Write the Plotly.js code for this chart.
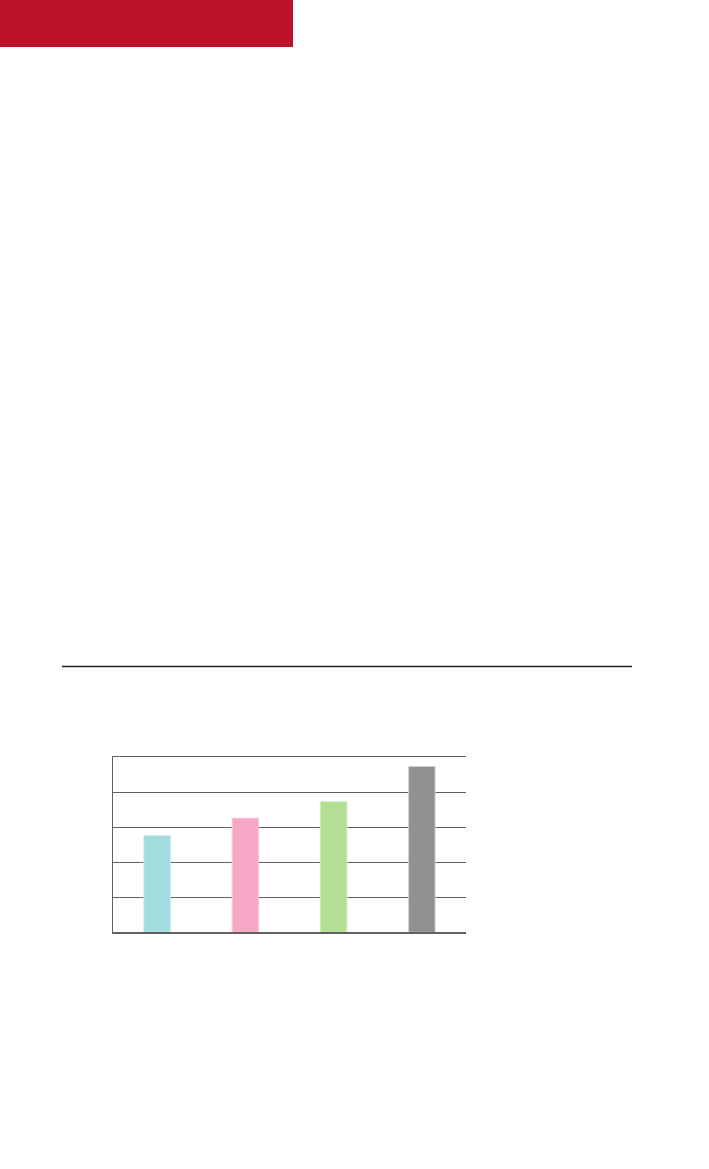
<!DOCTYPE html>
<html>
<head>
<meta charset="utf-8">
<script src="https://cdn.plot.ly/plotly-3.0.1.min.js"></script>
<style>
  html, body { margin: 0; padding: 0; background: #ffffff; }
  #chart { width: 709px; height: 1169px; }
</style>
</head>
<body>
<div id="chart"></div>
<script>
// Values (no labels printed, scale 0-5 gridlines)
const categories = ['A', 'B', 'C', 'D'];
const values = [2.76, 3.26, 3.73, 4.74];
const barColors = ['#a3dcde', '#f7a7c6', '#b3e094', '#918f90'];
const barEdges = ['#c6eaea', '#fbc6da', '#cdeeb8', '#d2d1d2'];

const W = 709, H = 1169;
const GRID = '#616161';

// plot box in pixels, converted to paper fractions
const box = { left: 113, right: 466, top: 757.3, bottom: 932.3 };

const trace = {
  x: categories,
  y: values,
  type: 'bar',
  width: 0.3,
  marker: {
    color: barColors,
    line: { color: barEdges, width: 1 },
  },
  hoverinfo: 'skip',
};

const layout = {
  width: W,
  height: H,
  margin: { l: 0, r: 0, t: 0, b: 0, pad: 0 },
  paper_bgcolor: '#ffffff',
  plot_bgcolor: 'rgba(0,0,0,0)',
  showlegend: false,
  xaxis: {
    domain: [box.left / W, box.right / W],
    showticklabels: false,
    ticks: '',
    showgrid: false,
    zeroline: false,
    showline: true,
    mirror: true, // top edge stands in for the gridline at 5
    linecolor: GRID,
    linewidth: 1.3,
    fixedrange: true,
  },
  yaxis: {
    domain: [(H - box.bottom) / H, (H - box.top) / H],
    range: [0, 5],
    dtick: 1,
    showticklabels: false,
    ticks: '',
    showgrid: true,
    gridcolor: GRID,
    gridwidth: 1.3,
    zeroline: false,
    showline: true,
    linecolor: GRID,
    linewidth: 1.3,
    fixedrange: true,
  },
  shapes: [
    // red header block
    {
      type: 'rect', xref: 'paper', yref: 'paper',
      x0: 0, x1: 293 / W, y0: 1, y1: 1 - 47 / H,
      fillcolor: '#bb1229', line: { width: 0 },
    },
    // horizontal rule above the chart
    {
      type: 'line', xref: 'paper', yref: 'paper',
      x0: 62 / W, x1: 632 / W, y0: 1 - 666.5 / H, y1: 1 - 666.5 / H,
      line: { color: '#231f20', width: 1.5 },
    },
  ],
};

Plotly.newPlot('chart', [trace], layout, { displayModeBar: false, staticPlot: true });
</script>
</body>
</html>
